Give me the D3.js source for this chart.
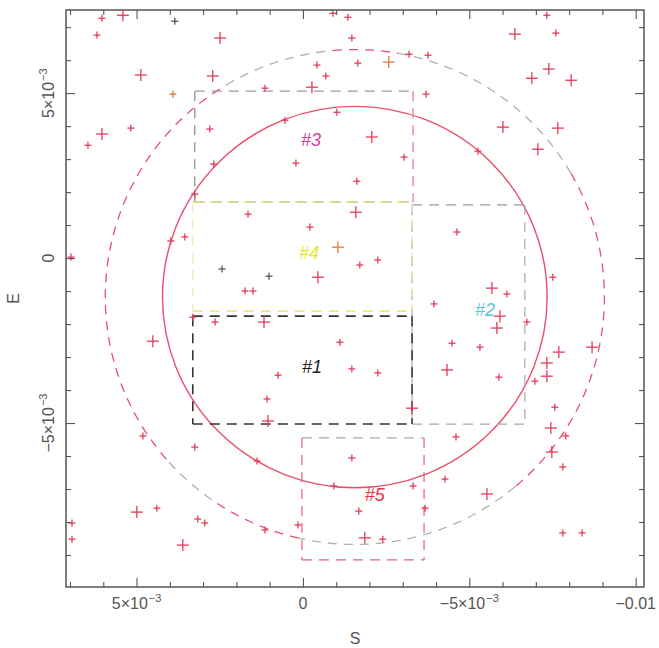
<!DOCTYPE html>
<html><head><meta charset="utf-8">
<script src="https://cdn.jsdelivr.net/npm/d3@7/dist/d3.min.js"></script>
<style>body{margin:0;background:#fff}svg{display:block}</style>
</head><body>
<svg id="chart" width="659" height="648"></svg>
<script>
// ---------- data ----------
const xDomain = [7.12e-3, -10.25e-3];
const yDomain = [7.52e-3, -9.97e-3];
const xMajorTicks = [5e-3, 0, -5e-3, -0.01];
const xMajorLabels = [["5×10","−3"],["0",""],["−5×10","−3"],["−0.01",""]];
const xMinorTicks = [7e-3,6e-3,4e-3,3e-3,2e-3,1e-3,-1e-3,-2e-3,-3e-3,-4e-3,-6e-3,-7e-3,-8e-3,-9e-3];
const yMajorTicks = [5e-3, 0, -5e-3];
const yMajorLabels = [["5×10","−3"],["0",""],["−5×10","−3"]];
const yMinorTicks = [7e-3,6e-3,4e-3,3e-3,2e-3,1e-3,-1e-3,-2e-3,-3e-3,-4e-3,-6e-3,-7e-3,-8e-3,-9e-3];
const xTitle = "S";
const yTitle = "E";

// concentric circles (centre and radius)
const circleCx = [-1.56e-3, -1.56e-3];
const circleCy = [-1.18e-3, -1.18e-3];
const circleR  = [5.78e-3, 7.50e-3];
// grey portions of the outer dashed circle (screen angle, degrees)
const outerGreyArcs = [[-121,-95],[-80,-30],[50,103],[125,139]];

// regions
const regionNames = ["#3","#2","#5","#4","#1"];
const regionX0 = [3.25e-3, -3.28e-3, 0.03e-3, 3.31e-3, 3.31e-3];
const regionX1 = [-3.31e-3, -6.67e-3, -3.64e-3, -3.28e-3, -3.28e-3];
const regionY0 = [5.06e-3, 1.61e-3, -5.45e-3, 1.70e-3, -1.76e-3];
const regionY1 = [1.70e-3, -5.03e-3, -9.15e-3, -1.61e-3, -5.03e-3];
const labelX = [-0.24e-3, -5.47e-3, -2.16e-3, -0.18e-3, -0.27e-3];
const labelY = [3.58e-3, -1.58e-3, -7.18e-3, 0.15e-3, -3.30e-3];

// stars
const starX = [6.04,5.41,3.85,6.19,4.87,3.91,6.04,6.46,5.17,2.80,2.71,2.49,6.97,3.55,3.97,3.25,2.68,1.65,0.54,0.21,
 -0.21,2.43,1.02,-0.45,1.74,1.50,1.14,-0.27,-0.42,-0.69,-1.47,-0.90,-1.35,-1.02,-1.05,-1.65,-2.58,-3.19,-3.76,-3.70,
 -2.07,-3.04,-1.62,-5.26,-1.59,-4.63,-1.71,-2.25,-5.68,-6.13,-6.37,-7.60,-7.33,-7.39,-6.88,-8.06,-6.01,-7.66,-7.06,-7.51,
 3.31,4.51,4.81,3.25,4.99,4.39,6.94,6.94,3.16,2.95,3.61,2.64,1.17,-1.11,-1.47,0.75,1.08,1.05,1.38,-1.47,
 -0.93,0.15,1.14,-3.94,-5.83,-5.92,-4.48,-5.32,-4.33,-5.89,-2.25,-3.28,-4.60,-3.31,-4.27,-5.53,-1.68,-1.86,-2.40,-3.67,
 -6.73,-7.69,-8.69,-7.33,-7.33,-6.97,-7.57,-7.45,-7.90,-7.48,-7.81,-7.81,-8.39].map(v => v*1e-3);
const starY = [7.27,7.36,7.18,6.76,5.55,4.97,3.76,3.42,3.94,3.91,5.52,6.67,0.03,0.64,0.52,1.94,2.85,1.33,4.18,2.88,
 0.94,-0.33,-0.55,-0.58,-1.00,-1.00,5.15,5.18,5.85,5.52,6.67,7.42,7.30,4.42,0.33,5.91,5.94,6.18,6.15,4.97,
 3.67,3.06,2.33,3.24,1.39,0.79,-0.21,-0.06,-0.91,-1.09,6.79,6.82,7.36,5.73,5.45,5.39,3.97,3.94,3.30,-0.58,
 -1.79,-2.52,-5.39,-5.73,-7.70,-7.58,-8.03,-8.52,-7.91,-8.03,-8.70,-1.94,-1.94,-2.55,-3.36,-3.55,-4.27,-4.94,-6.15,-6.06,
 -6.91,-8.09,-8.24,-1.39,-2.12,-1.76,-2.58,-2.70,-3.39,-3.61,-3.48,-4.55,-5.42,-6.91,-6.70,-7.15,-7.67,-8.48,-8.52,-7.58,
 -1.94,-2.85,-2.70,-3.18,-3.58,-3.73,-4.52,-5.15,-5.39,-5.88,-6.33,-8.33,-8.33].map(v => v*1e-3);
const starMag = [1,2,1,1,2,1,2,1,1,1,2,2,1,1,1,1,1,1,1,1,
 1,1,1,2,1,1,1,2,1,1,1,1,1,1,2,1,2,1,1,1,
 2,1,1,1,2,1,1,1,2,1,2,1,1,2,2,2,2,2,2,1,
 1,2,1,1,2,1,1,1,1,1,2,1,2,1,1,1,1,2,1,1,
 1,1,1,1,2,2,1,1,2,1,1,2,1,1,1,2,1,2,1,1,
 1,2,2,2,2,1,1,2,1,2,1,1,1];
const starKind = ["r","r","k","r","r","o","r","r","r","r","r","r","r","r","r","r","r","r","r","r",
 "r","k","k","r","r","r","r","r","r","r","r","r","r","r","o","r","o","r","r","r",
 "r","r","r","r","r","r","r","r","r","r","r","r","r","r","r","r","r","r","r","r",
 "r","r","r","r","r","r","r","r","r","r","r","r","r","r","r","r","r","r","r","r",
 "r","r","r","r","r","r","r","r","r","r","r","r","r","r","r","r","r","r","r","r",
 "r","r","r","r","r","r","r","r","r","r","r","r","r"];

// ---------- styles ----------
const kindColor = {r:"#e23c5a", k:"#555", o:"#e07a3a"};
const regionLabelColor = {"#1":"#222","#2":"#5ec3dc","#3":"#d0409c","#4":"#e8e62a","#5":"#e8334a"};
// edge colours: top, right, bottom, left
const regionEdgeColors = {
  "#3":["#9a9a9a","#e8708a","#9a9a9a","#8a8a8a"],
  "#2":["#9a9a9a","#a8a8a8","#a8a8a8","#a8a8a8"],
  "#5":["#aaaaaa","#e8607a","#e8607a","#e8607a"],
  "#4":["#e6e055","#ecebb0","#e6e055","#ecebb0"],
  "#1":["#333","#333","#333","#333"]
};
const red = "#e8506a";

// ---------- chart ----------
const svg = d3.select("#chart");
const L = 66, R = 644, T = 10, B = 587;
const x = d3.scaleLinear().domain(xDomain).range([L, R]);
const y = d3.scaleLinear().domain(yDomain).range([T, B]);

svg.append("rect").attr("width",659).attr("height",648).attr("fill","#fff");

const plot = svg.append("g");
// clip
svg.append("clipPath").attr("id","clip").append("rect")
  .attr("x",L).attr("y",T).attr("width",R-L).attr("height",B-T);
plot.attr("clip-path","url(#clip)");

// circles
const cx = x(circleCx[0]), cy = y(circleCy[0]);
// inner solid circle
plot.append("ellipse")
  .attr("cx", x(circleCx[0])).attr("cy", y(circleCy[0]))
  .attr("rx", Math.abs(x(circleR[0]) - x(0))).attr("ry", Math.abs(y(circleR[0]) - y(0)))
  .attr("fill","none").attr("stroke",red).attr("stroke-width",1.4);

// outer dashed circle: red arcs and grey arcs
const orx = Math.abs(x(circleR[1]) - x(0)), ory = Math.abs(y(circleR[1]) - y(0));
const ocx = x(circleCx[1]), ocy = y(circleCy[1]);
function arcPath(a0, a1) {
  const pts = d3.range(a0, a1 + 0.01, 1).map(a => {
    const t = a * Math.PI / 180;
    return [ocx + orx * Math.cos(t), ocy + ory * Math.sin(t)];
  });
  return d3.line()(pts);
}
// red complement arcs
const bounds = outerGreyArcs.flat();
const redArcs = [];
for (let i = 0; i < outerGreyArcs.length; i++) {
  const s = outerGreyArcs[i][1];
  const e = i + 1 < outerGreyArcs.length ? outerGreyArcs[i+1][0] : outerGreyArcs[0][0] + 360;
  redArcs.push([s, e]);
}
redArcs.forEach(a => plot.append("path").attr("d", arcPath(a[0], a[1]))
  .attr("fill","none").attr("stroke",red).attr("stroke-width",1.3).attr("stroke-dasharray","9,7"));
outerGreyArcs.forEach(a => plot.append("path").attr("d", arcPath(a[0], a[1]))
  .attr("fill","none").attr("stroke","#b0b0b0").attr("stroke-width",1.3).attr("stroke-dasharray","9,7"));

// regions
regionNames.forEach((n, i) => {
  const x0 = x(regionX0[i]), x1 = x(regionX1[i]), y0 = y(regionY0[i]), y1 = y(regionY1[i]);
  const edges = [[x0,y0,x1,y0],[x1,y0,x1,y1],[x0,y1,x1,y1],[x0,y0,x0,y1]];
  const cols = regionEdgeColors[n];
  edges.forEach((e, k) => plot.append("line")
    .attr("x1",e[0]).attr("y1",e[1]).attr("x2",e[2]).attr("y2",e[3])
    .attr("stroke",cols[k]).attr("stroke-width", n === "#1" ? 1.6 : 1.2)
    .attr("stroke-dasharray","10,7"));
});

// stars
starX.forEach((sx, i) => {
  const px = x(sx), py = y(starY[i]);
  const a = starMag[i] === 2 ? 6 : 3.5;
  const c = kindColor[starKind[i]];
  const g = plot.append("g").attr("stroke", c).attr("stroke-width", 1.3);
  g.append("line").attr("x1",px-a).attr("x2",px+a).attr("y1",py).attr("y2",py);
  g.append("line").attr("x1",px).attr("x2",px).attr("y1",py-a).attr("y2",py+a);
});

// region labels
regionNames.forEach((n, i) => {
  plot.append("text").attr("x", x(labelX[i])).attr("y", y(labelY[i]))
    .attr("text-anchor","middle").attr("dominant-baseline","central")
    .attr("font-family","Liberation Sans, Arial, sans-serif").attr("font-size",18)
    .attr("font-style","italic")
    .attr("fill", regionLabelColor[n]).text(n);
});

// axes (ticks inward on all four sides)
const axisCol = "#555";
function styleAxis(g) {
  g.select(".domain").remove();
  g.selectAll("line").attr("stroke", axisCol).attr("stroke-width", 1.1);
  g.selectAll("text").remove();
}
svg.append("g").attr("transform",`translate(0,${B})`).call(d3.axisBottom(x).tickValues(xMinorTicks).tickSize(-5)).call(styleAxis);
svg.append("g").attr("transform",`translate(0,${B})`).call(d3.axisBottom(x).tickValues(xMajorTicks).tickSize(-9)).call(styleAxis);
svg.append("g").attr("transform",`translate(0,${T})`).call(d3.axisTop(x).tickValues(xMinorTicks).tickSize(-5)).call(styleAxis);
svg.append("g").attr("transform",`translate(0,${T})`).call(d3.axisTop(x).tickValues(xMajorTicks).tickSize(-9)).call(styleAxis);
svg.append("g").attr("transform",`translate(${L},0)`).call(d3.axisLeft(y).tickValues(yMinorTicks).tickSize(-5)).call(styleAxis);
svg.append("g").attr("transform",`translate(${L},0)`).call(d3.axisLeft(y).tickValues(yMajorTicks).tickSize(-9)).call(styleAxis);
svg.append("g").attr("transform",`translate(${R},0)`).call(d3.axisRight(y).tickValues(yMinorTicks).tickSize(-5)).call(styleAxis);
svg.append("g").attr("transform",`translate(${R},0)`).call(d3.axisRight(y).tickValues(yMajorTicks).tickSize(-9)).call(styleAxis);

// frame
svg.append("rect").attr("x",L).attr("y",T).attr("width",R-L).attr("height",B-T)
  .attr("fill","none").attr("stroke","#555").attr("stroke-width",1.5);

// tick labels
const font = "Liberation Sans, Arial, sans-serif";
function addLabel(sel, parts) {
  sel.append("tspan").text(parts[0]);
  if (parts[1]) sel.append("tspan").attr("font-size",11).attr("dy",-7).attr("dx",1).text(parts[1]);
}
xMajorTicks.forEach((v, i) => {
  const t = svg.append("text").attr("x", x(v)).attr("y", 609)
    .attr("text-anchor","middle").attr("font-family",font).attr("font-size",16).attr("fill","#555");
  addLabel(t, xMajorLabels[i]);
});
yMajorTicks.forEach((v, i) => {
  const t = svg.append("text").attr("transform",`translate(54,${y(v)}) rotate(-90)`)
    .attr("text-anchor","middle").attr("font-family",font).attr("font-size",16).attr("fill","#555");
  addLabel(t, yMajorLabels[i]);
});

// titles
svg.append("text").attr("x",(L+R)/2).attr("y",644).attr("text-anchor","middle")
  .attr("font-family",font).attr("font-size",16).attr("fill","#555").text(xTitle);
svg.append("text").attr("transform",`translate(19,${(T+B)/2}) rotate(-90)`).attr("text-anchor","middle")
  .attr("font-family",font).attr("font-size",16).attr("fill","#555").text(yTitle);
</script>
</body></html>
